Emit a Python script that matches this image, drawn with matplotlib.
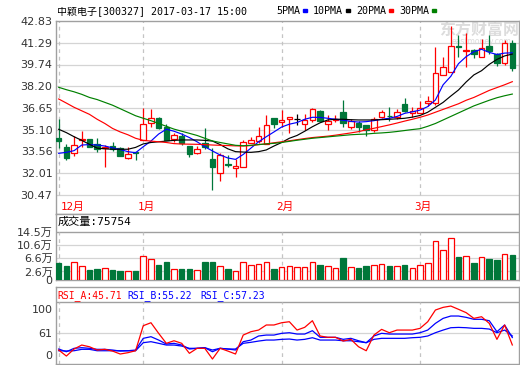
import numpy as np
import matplotlib
matplotlib.use('Agg')
import matplotlib.pyplot as plt
from matplotlib.patches import Rectangle

plt.rcParams['font.family'] = ['DejaVu Sans', 'Noto Sans CJK SC']
MONO = ['DejaVu Sans Mono', 'Noto Sans CJK SC']

# ---- values ----
stock_name = '中颖电子'
stock_code = '300327'
stamp = '2017-03-17 15:00'

opens = [34.54, 33.90, 33.43, 34.40, 34.43, 34.07, 33.79, 33.95, 33.79, 33.08,
         33.55, 34.38, 35.61, 35.96, 35.32, 34.43, 34.68, 33.95, 33.47, 34.14,
         33.00, 32.05, 32.67, 32.37, 32.48, 34.19, 34.31, 34.07, 35.92, 35.63,
         35.85, 35.85, 35.49, 35.80, 36.46, 35.49, 35.83, 36.34, 35.28, 35.61,
         35.44, 35.09, 35.99, 36.10, 35.99, 36.93, 36.32, 36.27, 37.03, 37.03,
         38.99, 39.23, 41.03, 40.70, 40.77, 40.25, 41.05, 40.48, 39.82, 41.29]
highs = [35.85, 34.09, 34.66, 35.02, 34.48, 34.54, 34.02, 34.26, 33.90, 33.86,
         33.56, 36.67, 36.58, 36.00, 35.49, 34.85, 34.85, 33.98, 33.98, 35.21,
         33.79, 33.43, 33.31, 33.00, 34.38, 34.61, 35.32, 36.15, 35.92, 36.51,
         35.99, 36.20, 36.22, 36.67, 36.51, 36.15, 36.15, 37.22, 35.85, 35.73,
         35.44, 35.99, 36.51, 36.74, 36.56, 37.34, 36.70, 37.17, 37.50, 40.96,
         40.29, 42.50, 41.83, 41.95, 40.82, 41.53, 41.83, 40.53, 41.48, 41.48]
lows = [33.79, 32.96, 33.24, 33.90, 33.85, 33.55, 32.48, 33.62, 33.24, 33.05,
        32.96, 34.38, 35.32, 35.15, 34.35, 34.26, 34.03, 33.19, 33.38, 33.72,
        30.83, 31.49, 32.44, 31.77, 32.48, 34.14, 34.14, 34.07, 35.21, 35.32,
        34.89, 35.45, 35.09, 35.68, 35.75, 35.09, 35.68, 35.28, 35.14, 34.97,
        34.66, 34.97, 35.92, 35.75, 35.85, 36.39, 35.99, 36.27, 36.79, 36.86,
        38.99, 39.23, 40.29, 39.58, 40.18, 40.25, 40.48, 39.65, 39.70, 39.30]
closes = [34.31, 33.12, 34.02, 34.45, 33.90, 33.72, 33.90, 33.72, 33.26, 33.38,
          33.43, 35.49, 35.92, 35.21, 34.38, 34.73, 34.14, 33.38, 33.74, 33.86,
          32.48, 33.31, 32.63, 32.55, 34.21, 34.38, 34.66, 35.42, 35.49, 35.80,
          35.99, 35.85, 35.80, 36.58, 35.75, 35.73, 35.87, 35.61, 35.75, 35.28,
          35.09, 35.85, 36.36, 36.06, 36.39, 36.46, 36.44, 36.63, 37.15, 39.16,
          39.54, 41.05, 40.99, 40.74, 40.48, 40.89, 40.72, 39.82, 41.24, 39.47]

ma5 = [33.43, 33.50, 33.62, 34.02, 34.05, 34.02, 33.95, 33.82, 33.70, 33.55,
       33.47, 33.90, 34.30, 34.80, 35.14, 35.00, 34.80, 34.55, 34.25, 33.90,
       33.60, 33.31, 33.10, 33.00, 33.35, 33.80, 34.25, 34.61, 34.95, 35.30,
       35.50, 35.62, 35.85, 35.99, 35.98, 35.92, 35.85, 35.78, 35.70, 35.65,
       35.68, 35.75, 35.85, 35.92, 36.05, 36.27, 36.38, 36.50, 36.75, 37.22,
       38.30, 38.90, 39.80, 40.30, 40.65, 40.82, 40.60, 40.45, 40.55, 40.57]
ma10 = [35.14, 34.90, 34.61, 34.35, 34.07, 33.80, 33.75, 33.72, 33.72, 33.72,
        33.85, 34.10, 34.20, 34.25, 34.30, 34.35, 34.38, 34.38, 34.38, 34.35,
        34.30, 34.05, 33.75, 33.55, 33.52, 33.50, 33.55, 33.67, 33.95, 34.20,
        34.50, 34.70, 35.00, 35.32, 35.60, 35.80, 35.85, 35.85, 35.82, 35.80,
        35.80, 35.80, 35.82, 35.85, 35.88, 35.92, 36.00, 36.12, 36.35, 36.70,
        37.05, 37.50, 37.93, 38.50, 39.00, 39.30, 39.75, 40.10, 40.35, 40.48]
ma20 = [37.29, 37.00, 36.70, 36.45, 36.20, 35.85, 35.55, 35.20, 34.95, 34.75,
        34.50, 34.35, 34.30, 34.25, 34.20, 34.12, 34.09, 34.08, 34.07, 34.05,
        34.02, 34.00, 33.98, 33.96, 33.95, 33.98, 34.05, 34.10, 34.18, 34.25,
        34.32, 34.40, 34.48, 34.55, 34.60, 34.65, 34.72, 34.80, 34.88, 34.97,
        35.10, 35.21, 35.33, 35.45, 35.58, 35.72, 35.85, 35.99, 36.15, 36.35,
        36.55, 36.75, 36.95, 37.20, 37.40, 37.65, 37.90, 38.10, 38.30, 38.52]
ma30 = [38.12, 37.95, 37.80, 37.62, 37.40, 37.25, 37.05, 36.85, 36.60, 36.35,
        36.10, 35.92, 35.75, 35.55, 35.35, 35.15, 35.00, 34.85, 34.70, 34.50,
        34.31, 34.20, 34.10, 34.00, 33.97, 34.00, 34.05, 34.10, 34.14, 34.20,
        34.28, 34.36, 34.43, 34.50, 34.55, 34.60, 34.65, 34.70, 34.75, 34.78,
        34.80, 34.85, 34.88, 34.92, 34.98, 35.05, 35.12, 35.18, 35.35, 35.55,
        35.80, 36.05, 36.30, 36.55, 36.80, 37.00, 37.20, 37.38, 37.52, 37.64]

volumes = [51500, 42400, 53500, 41400, 30300, 33300, 35400, 30300, 27300, 26300,
           27300, 71700, 63600, 45500, 54500, 33300, 33300, 33300, 29300, 54500,
           54500, 42400, 33300, 26300, 53500, 46500, 47500, 53500, 33300, 39400,
           42400, 39400, 39400, 53500, 45500, 42400, 36400, 66700, 39400, 36400,
           42400, 45500, 48500, 42400, 42400, 45500, 36400, 45500, 50500, 118000,
           90000, 129000, 69700, 71700, 51500, 69700, 63600, 60600, 77800, 75754]

rsi_a = [39.2, 31.5, 40.5, 45.6, 43.4, 39.2, 40.1, 37.9, 34.1, 35.8,
         38.3, 70.4, 74.2, 60.6, 47.8, 51.1, 47.8, 35.0, 41.4, 41.4,
         27.7, 41.4, 37.9, 34.1, 58.4, 62.7, 64.8, 71.3, 71.3, 74.2,
         75.5, 64.8, 68.3, 76.8, 57.2, 55.5, 55.5, 50.7, 52.9, 43.4,
         38.3, 58.4, 65.7, 61.4, 64.8, 64.8, 64.8, 67.0, 75.5, 90.5,
         93.9, 95.6, 91.4, 87.1, 79.8, 81.9, 73.4, 52.9, 71.3, 45.71]
rsi_b = [40.5, 37.0, 41.4, 42.2, 41.4, 40.1, 40.1, 39.2, 37.9, 38.3,
         39.2, 54.2, 56.3, 52.0, 46.9, 47.8, 45.6, 40.5, 41.4, 42.2,
         37.0, 41.4, 40.5, 39.2, 49.9, 52.0, 57.2, 58.4, 58.4, 60.6,
         61.4, 59.7, 59.7, 64.0, 55.5, 55.5, 55.5, 52.9, 54.2, 51.1,
         48.6, 57.2, 60.6, 59.7, 59.7, 59.7, 59.7, 61.4, 64.8, 73.4,
         79.8, 82.8, 82.8, 81.1, 78.6, 78.6, 76.8, 62.7, 71.3, 55.22]
rsi_c = [38.3, 38.0, 38.3, 40.1, 40.1, 38.3, 38.3, 38.3, 38.3, 38.3,
         38.3, 48.6, 49.9, 47.8, 45.6, 45.6, 44.3, 41.4, 41.4, 42.2,
         39.2, 41.4, 40.5, 40.5, 47.8, 49.1, 50.7, 52.0, 52.0, 52.9,
         53.3, 52.0, 52.9, 55.0, 52.0, 52.0, 52.0, 51.1, 51.1, 49.9,
         48.6, 52.9, 54.2, 54.2, 54.2, 54.2, 55.0, 55.5, 57.2, 61.4,
         64.8, 67.8, 68.2, 67.8, 67.0, 67.0, 66.1, 61.4, 64.8, 57.23]

price_ticks = ['42.83', '41.29', '39.74', '38.20', '36.65', '35.10', '33.56', '32.01', '30.47']
vol_ticks = [0, 26000, 66000, 106000, 145000]
vol_tick_labels = ['0', '2.6万', '6.6万', '10.6万', '14.5万']
month_starts = [0, 11, 29, 47]
month_labels = ['12月', '1月', '2月', '3月']
ma_names = ['5PMA', '10PMA', '20PMA', '30PMA']

# ---- styling ----
RED = '#ff0000'
GREEN = '#00773a'
MA_COLORS = ['#0000ff', '#000000', '#ff0000', '#008000']
FRAME = '#a0a0a0'
GRID = '#d4d4d4'
DASH = '#c4c4c4'
W, H = 520, 365


def px_rect(x0, y0, x1, y1):
    return [x0 / W, 1 - y1 / H, (x1 - x0) / W, (y1 - y0) / H]


fig = plt.figure(figsize=(W / 100, H / 100), dpi=100)
ax_p = fig.add_axes(px_rect(56, 21, 519, 214))
ax_v = fig.add_axes(px_rect(56, 214, 519, 280), sharex=ax_p)
ax_r = fig.add_axes(px_rect(56, 287, 519, 364), sharex=ax_p)

n = len(closes)
x = np.arange(n)
o = np.array(opens)
c = np.array(closes)
up = c > o
flat = c == o

for ax in (ax_p, ax_v, ax_r):
    for s in ax.spines.values():
        s.set_color(FRAME)
        s.set_linewidth(1.0)
    ax.tick_params(axis='x', bottom=False, labelbottom=False)
    ax.tick_params(axis='y', length=0, labelsize=8, colors='#333333', pad=2.5)
ax_p.set_xlim(-0.35, 59.87)

# ---- price panel ----
top, bottom = float(price_ticks[0]), float(price_ticks[-1])
ax_p.set_ylim(bottom - 19 / (174 / (top - bottom)), top)
ax_p.set_yticks([float(t) for t in price_ticks], price_ticks)
for t in price_ticks[1:]:
    ax_p.axhline(float(t), color=GRID, lw=0.9, zorder=1)
ax_p.vlines(month_starts[1:] + [month_starts[0]], bottom, top, colors=DASH,
            linestyles=(0, (3, 3)), lw=0.9, zorder=1)

ax_p.text(0.914, 0.953, '东方财富网', transform=ax_p.transAxes, ha='center',
          va='center', fontsize=11.5, color='#dcdcdc', fontweight='bold', zorder=0.5)
ax_p.text(0.92, 0.896, 'eastmoney.com', transform=ax_p.transAxes, ha='center',
          va='center', fontsize=5.5, color='#dcdcdc', zorder=0.5)

cols = np.where(up, RED, np.where(flat, '#000000', GREEN))
ax_p.vlines(x, lows, highs, colors=cols, lw=0.9, zorder=2)
body_lo = np.minimum(o, c)
body_h = np.maximum(np.abs(c - o), 0.03)
faces = np.where(up, 'white', cols)
ax_p.bar(x, body_h, bottom=body_lo, width=0.72, color=faces, edgecolor=cols,
         linewidth=0.9, zorder=3)
for vals, col in zip([ma5, ma10, ma20, ma30], MA_COLORS):
    ax_p.plot(x, vals, color=col, lw=0.85, zorder=4)

trans = ax_p.get_xaxis_transform()
for i, (m, lab) in enumerate(zip(month_starts, month_labels)):
    if i == 0:
        ax_p.text(m + 0.3, 0.036, lab, transform=trans, ha='left', va='center',
                  color=RED, fontsize=7.8, family=MONO)
    else:
        ax_p.text(m + 0.4, 0.036, lab, transform=trans, ha='center', va='center',
                  color=RED, fontsize=7.8, family=MONO)

# ---- volume panel ----
vtop = vol_ticks[-1]
ax_v.set_ylim(0, vtop * 66 / 47.7)
ax_v.set_yticks(vol_ticks, vol_tick_labels)
for t in vol_ticks[1:-1]:
    ax_v.axhline(t, color=GRID, lw=0.9, zorder=1)
ax_v.axhline(vtop, color=FRAME, lw=1.0, zorder=1)
ax_v.vlines(month_starts, 0, vtop, colors=DASH, linestyles=(0, (3, 3)), lw=0.9, zorder=1)
vup = c >= o
vcols = np.where(vup, RED, GREEN)
vfaces = np.where(vup, 'white', GREEN)
ax_v.bar(x, volumes, width=0.72, color=vfaces, edgecolor=vcols, linewidth=0.9, zorder=3)
ax_v.text(0.004, 0.879, '成交量:%d' % volumes[-1], transform=ax_v.transAxes,
          ha='left', va='center', fontsize=8, family=MONO, color='#000000')

# ---- RSI panel ----
ax_r.set_ylim(21.3, 120.0)
ax_r.set_yticks([32.8, 61, 91.8], ['0', '61', '100'])
ax_r.axhline(61, color=GRID, lw=0.9, zorder=1)
ax_r.axhline(100.7, color=FRAME, lw=1.0, zorder=1)
ax_r.vlines(month_starts, 21.3, 100.7, colors=DASH, linestyles=(0, (3, 3)), lw=0.9, zorder=1)
ax_r.plot(x, rsi_c, color='#0000ff', lw=0.9, zorder=3)
ax_r.plot(x, rsi_b, color='#0000ff', lw=0.9, zorder=3)
ax_r.plot(x, rsi_a, color=RED, lw=0.9, zorder=4)
hdr = [('RSI_A:%.2f' % rsi_a[-1], RED, 0.004),
       ('RSI_B:%.2f' % rsi_b[-1], '#0000ff', 0.155),
       ('RSI_C:%.2f' % rsi_c[-1], '#0000ff', 0.311)]
for txt, col, xx in hdr:
    ax_r.text(xx, 0.883, txt, transform=ax_r.transAxes, ha='left', va='center',
              fontsize=7, family=MONO, color=col)

# ---- title and MA legend ----
fig.text(57 / W, 1 - 11 / H, '%s[%s] %s' % (stock_name, stock_code, stamp),
         ha='left', va='center', fontsize=7.2, family=MONO, color='#000000')
leg_x = [276, 313, 356, 399]
for name, col, lx in zip(ma_names, MA_COLORS, leg_x):
    t = fig.text(lx / W, 1 - 11 / H, name, ha='left', va='center',
                 fontsize=7.2, family=MONO, color='#000000')
    wpx = len(name) * 6.0
    fig.patches.append(Rectangle(((lx + wpx + 3) / W, 1 - 12.3 / H), 4 / W, 3 / H,
                                 transform=fig.transFigure, color=col))

fig.savefig('out.png', dpi=100)
